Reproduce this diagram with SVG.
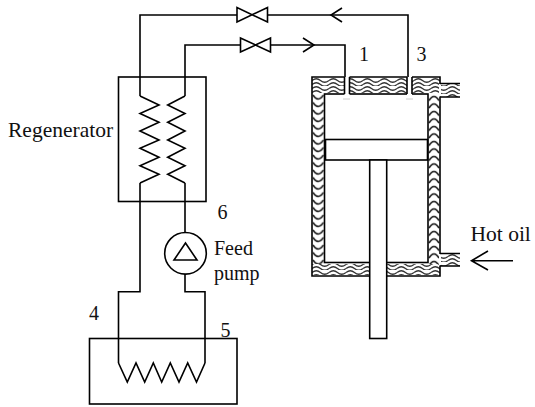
<svg xmlns="http://www.w3.org/2000/svg" width="535" height="407" viewBox="0 0 535 407">
<style>
.l{fill:none;stroke:#000;stroke-width:1.6}
.f{fill:#fff;stroke:#000;stroke-width:1.6}
.t{font-family:"Liberation Serif",serif;font-size:20px;fill:#111}
.b{font-size:21.500px}
.w{fill:none;stroke:#333;stroke-width:1.3;stroke-linejoin:round}
.s{fill:none;stroke:#222;stroke-width:1.7;stroke-linejoin:round}
</style>
<defs>
<pattern id="h" width="17" height="8" patternUnits="userSpaceOnUse" x="312" y="78">
<path class="w" d="M0 2.500Q4.250 -1 8.500 2.500T17 2.500M0 6.500Q4.250 3 8.500 6.500T17 6.500"/>
</pattern>
<pattern id="va" width="12" height="7.500" patternUnits="userSpaceOnUse" x="428" y="94">
<path class="s" d="M1 6.500Q6 -1.500 11 6.500"/>
</pattern>
<pattern id="vb" width="12.500" height="7.500" patternUnits="userSpaceOnUse" x="312" y="94">
<path class="s" d="M1 1Q6 9 11.500 1"/>
</pattern>
</defs>
<rect width="535" height="407" fill="#fff"/>
<g id="cylinder">
<rect x="312" y="94" width="12.500" height="170" fill="url(#vb)"/>
<rect x="428" y="94" width="12" height="170" fill="url(#va)"/>
<rect x="312" y="78" width="128" height="15" fill="url(#h)"/>
<rect x="312" y="264" width="128" height="11" fill="url(#h)"/>
<rect x="440" y="84" width="20" height="13" fill="url(#h)"/>
<rect x="440" y="253" width="20" height="13" fill="url(#h)"/>
<path class="l" d="M312 77H440V276H312Z"/>
<rect class="f" x="324.500" y="94" width="103.500" height="168.500"/>
<rect x="439" y="84" width="2" height="12.500" fill="#fff"/>
<rect x="439" y="254" width="2" height="11.500" fill="#fff"/>
<path class="l" d="M440 83.500H460M440 97H460M440 253.500H460M440 266H460"/>
<rect x="344.500" y="76" width="5" height="19" fill="#fff"/>
<rect x="407" y="76" width="5" height="19" fill="#fff"/>
<path class="l" d="M344.500 77V94M349.500 77V94M407 77V94M412 77V94"/>
<path d="M343 99H350M406 99H413" fill="none" stroke="#ccc" stroke-width="1"/>
<rect class="f" x="325.500" y="139.500" width="102" height="20.500"/>
<rect class="f" x="369.700" y="160" width="17" height="178.500"/>
</g>
<g id="regenerator">
<rect class="l" x="118.500" y="77" width="87.500" height="124.500"/>
<path class="l" d="M140 96L159 105L140 113.500L159 122.300L140 131L159 140L140 148.300L159 157.300L140 165.700L159 174.300L140 183"/>
<path class="l" d="M185 96L167.700 105L185 113.500L167.700 122.300L185 131L167.700 140L185 148.300L167.700 157.300L185 165.700L167.700 174.300L185 183"/>
</g>
<g id="pump">
<circle class="l" cx="185.500" cy="253.300" r="20.800"/>
<path class="l" d="M185.500 243L197 260H174Z"/>
</g>
<g id="boiler">
<rect class="l" x="89.500" y="338.500" width="147.500" height="65.500"/>
<path class="l" d="M118.500 363L127.300 382L136 363L144.700 382L153.300 363L161.700 382L170.300 363L179 382L187.700 363L196.500 382L205 363"/>
</g>
<g id="valve-top">
<path class="l" d="M237 7.500V22L267.500 7.500V22Z"/>
</g>
<g id="valve-bottom">
<path class="l" d="M240.500 38V52L270.500 38V52Z"/>
</g>
<g id="connectors">
<path class="l" d="M140 96V15H237M267.500 15H408V77"/>
<path class="l" d="M185 96V45H240.500M270.500 45H345V77"/>
<path class="l" d="M342 8L331 15L342 22M303 38L314 45L303 52"/>
<path class="l" d="M140 183V291.700H118.500V363"/>
<path class="l" d="M185 183V232.500M185 274V291.700H205V363"/>
<path class="l" d="M513 260.700H471.500M488 251L471.500 260.700L488 270"/>
</g>
<g id="labels">
<text class="t b" x="8" y="136.500">Regenerator</text>
<text class="t" x="359" y="61">1</text>
<text class="t" x="416.500" y="61">3</text>
<text class="t" x="217.500" y="219">6</text>
<text class="t" x="214" y="255">Feed</text>
<text class="t" x="214" y="279.500">pump</text>
<text class="t" x="89" y="320">4</text>
<text class="t" x="220.500" y="337">5</text>
<text class="t b" x="470.500" y="241">Hot oil</text>
</g>
</svg>
